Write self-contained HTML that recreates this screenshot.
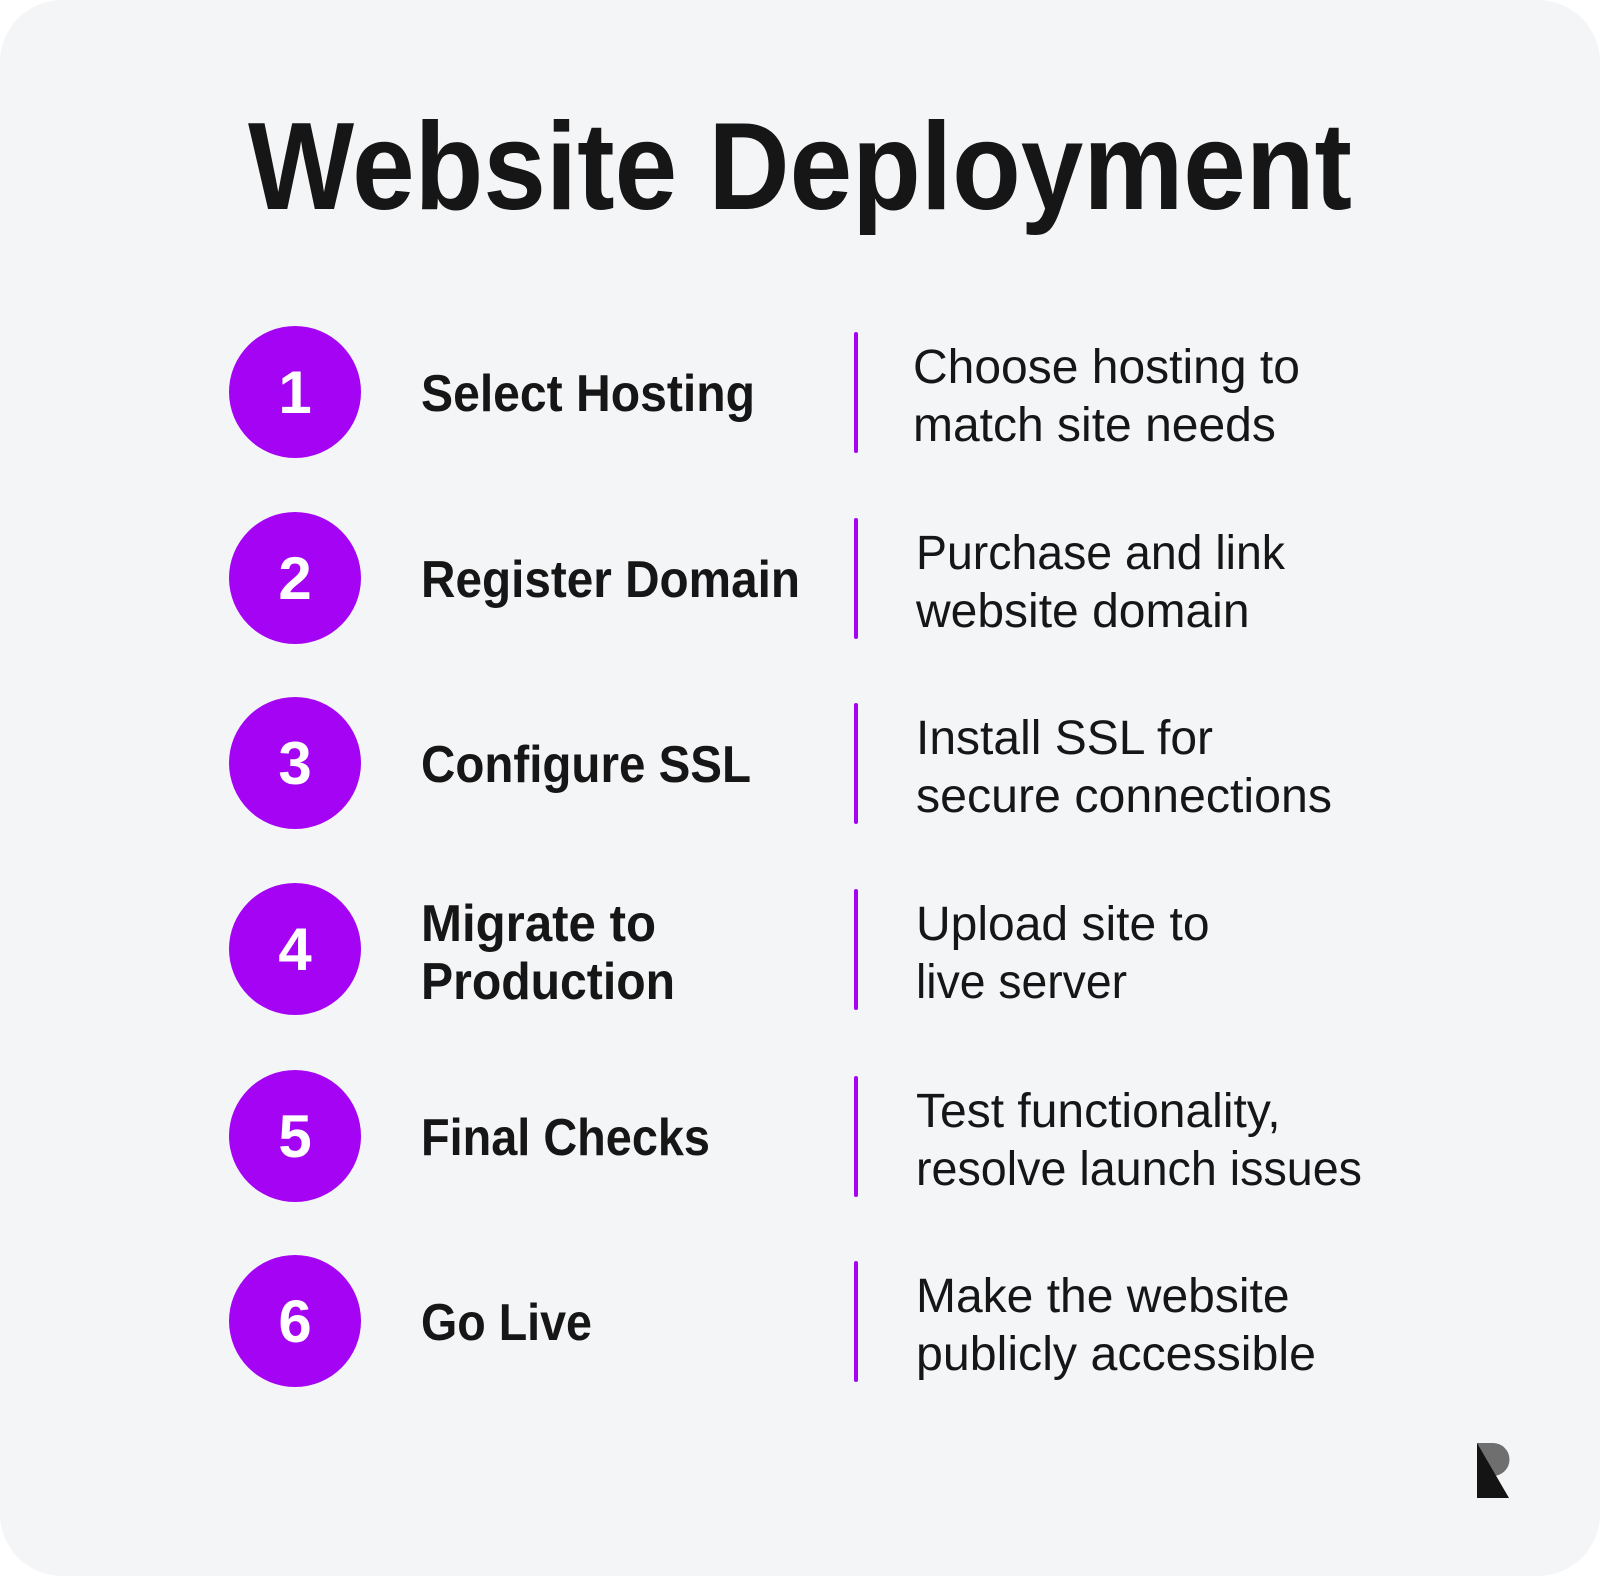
<!DOCTYPE html>
<html><head><meta charset="utf-8"><style>
html,body{margin:0;padding:0;background:#fff;}
svg{display:block}
</style></head><body>
<svg width="1600" height="1576" viewBox="0 0 1600 1576" xmlns="http://www.w3.org/2000/svg" font-family="Liberation Sans, Arial, sans-serif">
<rect x="0" y="0" width="1600" height="1576" rx="62" fill="#f4f5f7"/>
<text x="248" y="209" font-size="124" font-weight="bold" fill="#161616" textLength="1104" lengthAdjust="spacingAndGlyphs">Website Deployment</text>
<g id="rows">
<circle cx="295" cy="392" r="66" fill="#a403f4"/>
<text x="295" y="413" font-size="60" font-weight="bold" fill="#fff" text-anchor="middle">1</text>
<text x="421" y="411" font-size="52" font-weight="bold" fill="#161616" textLength="334" lengthAdjust="spacingAndGlyphs">Select Hosting</text>
<rect x="854" y="332" width="4" height="121" rx="2" fill="#a403f4"/>
<text x="913" y="383" font-size="48" fill="#161616">Choose hosting to</text>
<text x="913" y="441" font-size="48" fill="#161616">match site needs</text>

<circle cx="295" cy="578" r="66" fill="#a403f4"/>
<text x="295" y="599" font-size="60" font-weight="bold" fill="#fff" text-anchor="middle">2</text>
<text x="421" y="597" font-size="52" font-weight="bold" fill="#161616" textLength="379" lengthAdjust="spacingAndGlyphs">Register Domain</text>
<rect x="854" y="518" width="4" height="121" rx="2" fill="#a403f4"/>
<text x="916" y="569" font-size="48" fill="#161616" textLength="369" lengthAdjust="spacingAndGlyphs">Purchase and link</text>
<text x="916" y="627" font-size="48" fill="#161616">website domain</text>

<circle cx="295" cy="763" r="66" fill="#a403f4"/>
<text x="295" y="784" font-size="60" font-weight="bold" fill="#fff" text-anchor="middle">3</text>
<text x="421" y="782" font-size="52" font-weight="bold" fill="#161616" textLength="330" lengthAdjust="spacingAndGlyphs">Configure SSL</text>
<rect x="854" y="703" width="4" height="121" rx="2" fill="#a403f4"/>
<text x="916" y="754" font-size="48" fill="#161616">Install SSL for</text>
<text x="916" y="812" font-size="48" fill="#161616" textLength="416" lengthAdjust="spacingAndGlyphs">secure connections</text>

<circle cx="295" cy="949" r="66" fill="#a403f4"/>
<text x="295" y="970" font-size="60" font-weight="bold" fill="#fff" text-anchor="middle">4</text>
<text x="421" y="941" font-size="52" font-weight="bold" fill="#161616" textLength="235" lengthAdjust="spacingAndGlyphs">Migrate to</text>
<text x="421" y="999" font-size="52" font-weight="bold" fill="#161616" textLength="254" lengthAdjust="spacingAndGlyphs">Production</text>
<rect x="854" y="889" width="4" height="121" rx="2" fill="#a403f4"/>
<text x="916" y="940" font-size="48" fill="#161616">Upload site to</text>
<text x="916" y="998" font-size="48" fill="#161616" textLength="211" lengthAdjust="spacingAndGlyphs">live server</text>

<circle cx="295" cy="1136" r="66" fill="#a403f4"/>
<text x="295" y="1157" font-size="60" font-weight="bold" fill="#fff" text-anchor="middle">5</text>
<text x="421" y="1155" font-size="52" font-weight="bold" fill="#161616" textLength="289" lengthAdjust="spacingAndGlyphs">Final Checks</text>
<rect x="854" y="1076" width="4" height="121" rx="2" fill="#a403f4"/>
<text x="916" y="1127" font-size="48" fill="#161616">Test functionality,</text>
<text x="916" y="1185" font-size="48" fill="#161616" textLength="446" lengthAdjust="spacingAndGlyphs">resolve launch issues</text>

<circle cx="295" cy="1321" r="66" fill="#a403f4"/>
<text x="295" y="1342" font-size="60" font-weight="bold" fill="#fff" text-anchor="middle">6</text>
<text x="421" y="1340" font-size="52" font-weight="bold" fill="#161616" textLength="171" lengthAdjust="spacingAndGlyphs">Go Live</text>
<rect x="854" y="1261" width="4" height="121" rx="2" fill="#a403f4"/>
<text x="916" y="1312" font-size="48" fill="#161616">Make the website</text>
<text x="916" y="1370" font-size="48" fill="#161616" textLength="400" lengthAdjust="spacingAndGlyphs">publicly accessible</text>
</g>
<path d="M1477 1443 H1493 A16 16 0 0 1 1493 1476 H1477 Z" fill="#6f6f6f"/>
<path d="M1477 1443 L1509 1498 H1477 Z" fill="#141414"/>
</svg>
</body></html>
